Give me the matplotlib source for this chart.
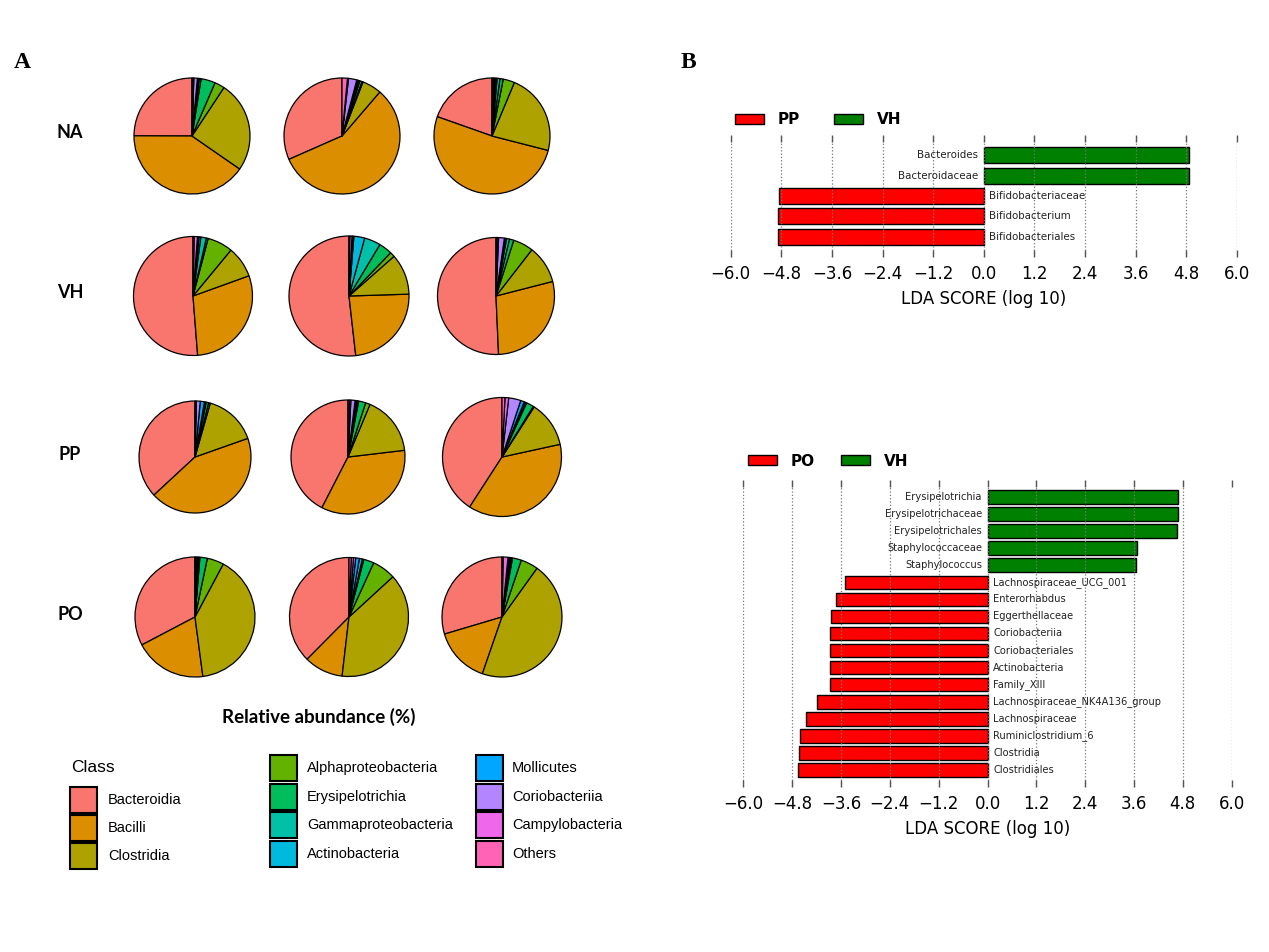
import numpy as np
import matplotlib
matplotlib.use("Agg")
import matplotlib.pyplot as plt
from matplotlib.patches import Rectangle

# ---------------- data ----------------
classes = ["Bacteroidia", "Bacilli", "Clostridia", "Alphaproteobacteria",
           "Erysipelotrichia", "Gammaproteobacteria", "Actinobacteria",
           "Mollicutes", "Coriobacteriia", "Campylobacteria", "Others"]
class_colors = ["#F8766D", "#DB8E00", "#AEA200", "#64B200", "#00BD5C",
                "#00C1A7", "#00BADE", "#00A6FF", "#B385FF", "#EF67EB", "#FF63B6"]

groups = ["NA", "VH", "PP", "PO"]
# relative abundance (%) per sample, in the order of `classes`
NA_samples = [
    [25.0, 40.5, 25.4, 2.8, 4.0, 0.5, 0.3, 0.2, 1.0, 0.2, 0.3],
    [31.6, 57.1, 5.4, 0.3, 0.6, 0.4, 0.3, 0.2, 2.3, 0.3, 1.5],
    [19.6, 51.4, 22.7, 3.2, 0.9, 0.8, 0.3, 0.3, 0.3, 0.2, 0.3],
]
VH_samples = [
    [51.3, 29.3, 8.5, 6.9, 0.5, 1.5, 0.5, 0.2, 0.2, 0.9, 0.3],
    [51.8, 23.7, 11.0, 1.3, 3.6, 4.4, 2.9, 0.3, 0.2, 0.6, 0.2],
    [50.7, 28.3, 10.5, 5.6, 1.2, 0.8, 0.4, 0.2, 1.6, 0.4, 0.3],
]
PP_samples = [
    [36.9, 43.5, 15.2, 0.5, 0.7, 0.3, 0.2, 1.2, 1.1, 0.2, 0.2],
    [42.4, 34.4, 16.8, 1.3, 2.0, 0.4, 0.3, 0.3, 1.2, 0.4, 0.4],
    [40.9, 37.6, 12.5, 0.3, 2.0, 0.4, 0.3, 1.0, 3.3, 1.0, 0.8],
]
PO_samples = [
    [32.7, 19.4, 40.1, 4.5, 2.0, 0.2, 0.2, 0.2, 0.4, 0.2, 0.1],
    [37.6, 10.6, 38.7, 6.4, 2.8, 0.4, 0.8, 1.0, 0.6, 0.6, 0.6],
    [29.6, 15.1, 45.4, 4.7, 2.4, 0.3, 0.3, 0.3, 0.3, 1.3, 0.3],
]
group_samples = [NA_samples, VH_samples, PP_samples, PO_samples]

# LEfSe: PP vs VH
lda1_features = ["Bacteroides", "Bacteroidaceae", "Bifidobacteriaceae",
                 "Bifidobacterium", "Bifidobacteriales"]
lda1_scores = [4.87, 4.87, -4.85, -4.87, -4.89]
lda1_groups = ("PP", "VH")

# LEfSe: PO vs VH
lda2_features = ["Erysipelotrichia", "Erysipelotrichaceae", "Erysipelotrichales",
                 "Staphylococcaceae", "Staphylococcus", "Lachnospiraceae_UCG_001",
                 "Enterorhabdus", "Eggerthellaceae", "Coriobacteriia",
                 "Coriobacteriales", "Actinobacteria", "Family_XIII",
                 "Lachnospiraceae_NK4A136_group", "Lachnospiraceae",
                 "Ruminiclostridium_6", "Clostridia", "Clostridiales"]
lda2_scores = [4.69, 4.68, 4.66, 3.67, 3.66, -3.51, -3.73, -3.84, -3.86,
               -3.87, -3.87, -3.87, -4.19, -4.46, -4.60, -4.64, -4.66]
lda2_groups = ("PO", "VH")

lda_ticks = [-6.0, -4.8, -3.6, -2.4, -1.2, 0.0, 1.2, 2.4, 3.6, 4.8, 6.0]

# ---------------- layout ----------------
W, H = 1269, 952
fig = plt.figure(figsize=(W / 100, H / 100), dpi=100)
fig.patch.set_facecolor("white")


def fax(left, top, width, height):
    return fig.add_axes([left / W, 1 - (top + height) / H, width / W, height / H])


def fx(x):
    return x / W


def fy(y):
    return 1 - y / H


# pie centres (px) and radii
pie_cx = [[192, 342, 492], [193, 349, 496], [195, 348, 502], [195, 349, 502]]
pie_cy = [136, 296, 457, 617]
pie_r = [[58, 58, 58], [59.5, 60, 58.5], [56, 57, 59.5], [60, 59.5, 60]]
row_label_x = 70

for gi, g in enumerate(groups):
    fig.text(fx(row_label_x), fy(pie_cy[gi] - 3), g, ha="center", va="center",
             fontsize=13, fontweight="bold", family=["Lato", "DejaVu Sans"])
    for si, vals in enumerate(group_samples[gi]):
        r = pie_r[gi][si]
        cx = pie_cx[gi][si]
        cy = pie_cy[gi]
        ax = fax(cx - r - 1, cy - r - 1, 2 * r + 2, 2 * r + 2)
        ax.pie(vals, colors=class_colors, startangle=90, counterclock=True,
               radius=1.0, wedgeprops=dict(edgecolor="black", linewidth=0.9))
        lim = 1.0 * (r + 1) / r
        ax.set_xlim(-lim, lim)
        ax.set_ylim(-lim, lim)
        ax.set_aspect("equal")
        ax.axis("off")

fig.text(fx(319), fy(717), "Relative abundance (%)", ha="center", va="center",
         fontsize=13.5, fontweight="bold", family=["Lato", "DejaVu Sans"])

# panel letters
fig.text(fx(22), fy(63), "A", ha="center", va="center", fontsize=17,
         fontweight="bold", family=["Liberation Serif", "DejaVu Serif"])
fig.text(fx(688), fy(63), "B", ha="center", va="center", fontsize=17,
         fontweight="bold", family=["Liberation Serif", "DejaVu Serif"])

# class legend
leg_font = ["Liberation Sans", "DejaVu Sans"]
fig.text(fx(71), fy(768), "Class", ha="left", va="center", fontsize=12.5,
         family=leg_font)
leg_cols_x = [70, 270, 476]
leg_text_x = [108, 307, 512]
leg_cols_y = [[800, 828, 856], [768, 797, 825, 854], [768, 797, 825, 854]]
leg_items = [classes[0:3], classes[3:7], classes[7:11]]
k = 0
for c in range(3):
    for j, name in enumerate(leg_items[c]):
        yc = leg_cols_y[c][j]
        rect = Rectangle((fx(leg_cols_x[c]), fy(yc + 13)), 27 / W, 26 / H,
                         transform=fig.transFigure, facecolor=class_colors[k],
                         edgecolor="black", linewidth=1.5)
        fig.add_artist(rect)
        fig.text(fx(leg_text_x[c]), fy(yc), name, ha="left", va="center",
                 fontsize=10.5, family=leg_font)
        k += 1


# ---------------- LDA panels ----------------
def lda_panel(left, top, width, height, features, scores, grps, leg_pos, fs):
    ax = fax(left, top, width, height)
    n = len(features)
    ypos = np.arange(n)[::-1]
    cols = ["#008000" if s > 0 else "#FF0000" for s in scores]
    ax.barh(ypos, scores, height=0.8, color=cols, edgecolor="black",
            linewidth=1.0, zorder=2)
    for y, s, f in zip(ypos, scores, features):
        if s > 0:
            ax.annotate(f, xy=(0, y), xytext=(-4, 0), textcoords="offset points",
                        ha="right", va="center", fontsize=fs, color="#222222")
        else:
            ax.annotate(f, xy=(0, y), xytext=(4, 0), textcoords="offset points",
                        ha="left", va="center", fontsize=fs, color="#222222")
    ax.set_xlim(-6, 6)
    ax.set_ylim(-1, n)
    ax.set_xticks(lda_ticks)
    ax.set_xticklabels([("%.1f" % t).replace("-", "\u2212") for t in lda_ticks],
                       fontsize=12)
    ax.set_yticks([])
    for sp in ax.spines.values():
        sp.set_visible(False)
    ax.tick_params(axis="x", direction="in", top=True, bottom=True, length=5,
                   width=1, color="#555555", pad=6)
    ax.xaxis.grid(True, linestyle=":", color="#777777", linewidth=0.9, zorder=3)
    ax.set_axisbelow(False)
    ax.set_xlabel("LDA SCORE (log 10)", fontsize=12, labelpad=5)
    # legend
    (rx, gx, ly) = leg_pos
    for x0, col, lab in [(rx, "#FF0000", grps[0]), (gx, "#008000", grps[1])]:
        rect = Rectangle((fx(x0), fy(ly + 5)), 29 / W, 10 / H,
                         transform=fig.transFigure, facecolor=col,
                         edgecolor="black", linewidth=1.0)
        fig.add_artist(rect)
        fig.text(fx(x0 + 43), fy(ly + 1), lab, ha="left", va="center",
                 fontsize=11, fontweight="bold")
    return ax


lda_panel(730.7, 135, 506, 122, lda1_features, lda1_scores, lda1_groups,
          (735, 834, 119), 7.4)
lda_panel(743.3, 480, 488.4, 307, lda2_features, lda2_scores, lda2_groups,
          (748, 841, 460), 7.1)

fig.savefig("out.png", dpi=100, facecolor="white")
